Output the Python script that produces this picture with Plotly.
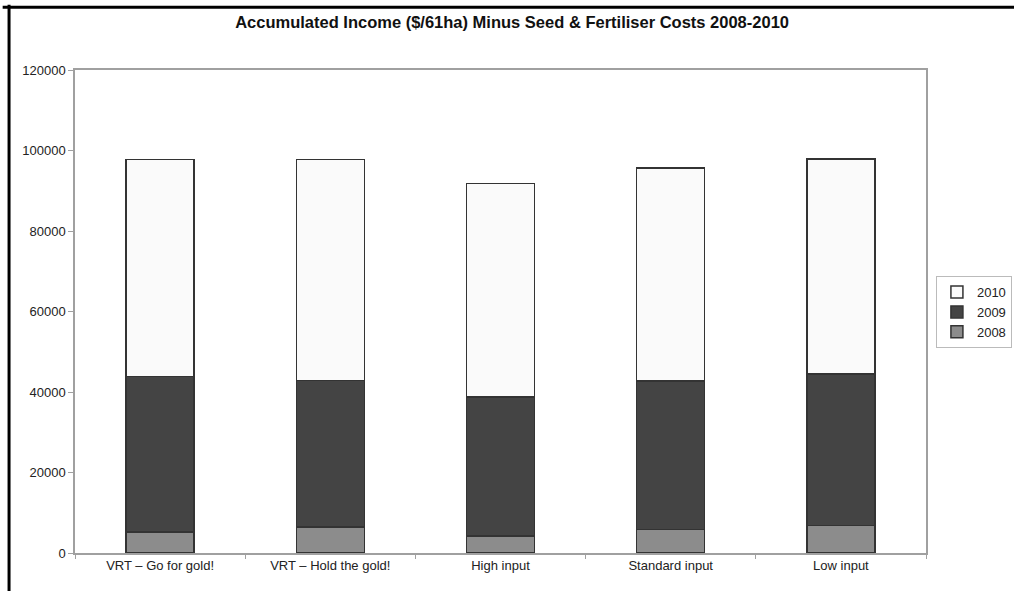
import plotly.graph_objects as go

categories = ["VRT \u2013 Go for gold!", "VRT \u2013 Hold the gold!", "High input", "Standard input", "Low input"]
totals = [97800, 97800, 91850, 95600, 97900]
top_2009 = [43800, 42800, 38800, 42700, 44500]
v2008 = [5200, 6400, 4200, 5900, 6800]
v2009 = [t - b for t, b in zip(top_2009, v2008)]
v2010 = [t - m for t, m in zip(totals, top_2009)]
y_ticks = [0, 20000, 40000, 60000, 80000, 100000, 120000]

line = dict(color="#333333", width=1.5)
fig = go.Figure()
fig.add_bar(name="2008", x=categories, y=v2008, marker=dict(color="#8c8c8c", line=line))
fig.add_bar(name="2009", x=categories, y=v2009, marker=dict(color="#444444", line=line))
fig.add_bar(name="2010", x=categories, y=v2010, marker=dict(color="#fafafa", line=line))

fig.update_layout(
    width=1014, height=591,
    barmode="stack", bargap=0.6,
    paper_bgcolor="white", plot_bgcolor="white",
    margin=dict(l=75, r=88, t=70, b=38, autoexpand=False),
    font=dict(family="Liberation Sans, Arial, sans-serif", size=13, color="#222222"),
    title=dict(text="<b>Accumulated Income ($/61ha) Minus Seed & Fertiliser Costs 2008-2010</b>",
               x=0.505, xref="container", y=0.963, yref="container", yanchor="middle",
               font=dict(size=16.5, color="#111111")),
    showlegend=True,
    legend=dict(traceorder="reversed", xref="container", yref="container",
                x=0.923, xanchor="left", y=0.472, yanchor="middle",
                bordercolor="#bbbbbb", borderwidth=1, font=dict(size=13),
                itemwidth=30, tracegroupgap=0),
    xaxis=dict(showline=True, linecolor="#a0a0a0", linewidth=1.5, mirror=True,
               ticks="outside", tickson="boundaries", ticklen=4, tickcolor="#a0a0a0",
               showgrid=False, tickfont=dict(size=13)),
    yaxis=dict(range=[0, 120000], tickvals=y_ticks, ticktext=[str(v) for v in y_ticks],
               showline=True, linecolor="#a0a0a0", linewidth=1.5, mirror=True,
               ticks="outside", ticklen=5, tickcolor="#a0a0a0", showgrid=False, zeroline=False,
               tickfont=dict(size=13)),
    shapes=[
        dict(type="line", xref="paper", yref="paper", x0=-0.085, x1=1.2, y0=1.13, y1=1.13,
             line=dict(color="black", width=3)),
        dict(type="line", xref="paper", yref="paper", x0=-0.0775, x1=-0.0775, y0=1.135, y1=-0.2,
             line=dict(color="black", width=3)),
    ],
)

fig.write_html("out.html")
